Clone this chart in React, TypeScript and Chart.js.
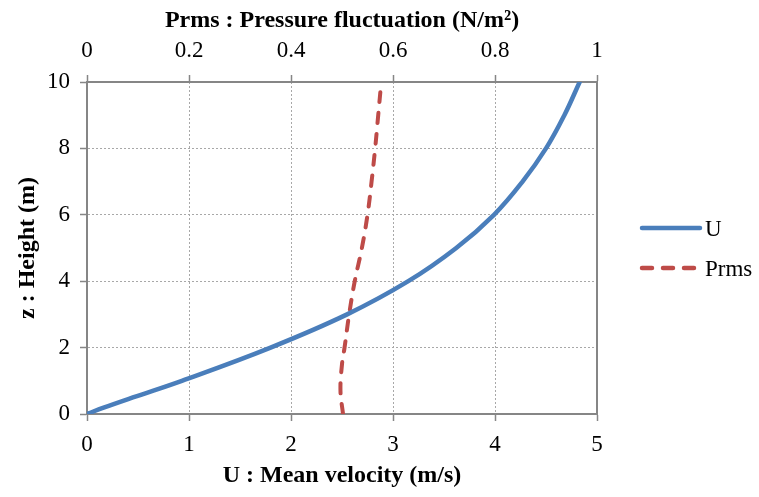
import React, { useEffect, useRef } from 'react';
import { Chart, registerables } from 'chart.js';

Chart.register(...registerables);

// ---- data ----
const seriesLabels = ['U', 'Prms'];
const uHeights = [0, 0.2, 0.5, 1, 2, 3, 4, 5, 6, 7, 8, 9, 10];
const uValues = [0, 0.17, 0.45, 0.93, 1.8, 2.55, 3.15, 3.62, 3.99, 4.27, 4.5, 4.68, 4.83];
const pHeights = [0, 0.7, 1.5, 2, 3, 4, 5, 6, 7, 8, 9, 10];
const pValues = [0.502, 0.497, 0.5, 0.505, 0.514, 0.525, 0.539, 0.55, 0.558, 0.565, 0.571, 0.577];
const uTicks = [0, 1, 2, 3, 4, 5];
const pTicks = [0, 0.2, 0.4, 0.6, 0.8, 1];
const zTicks = [0, 2, 4, 6, 8, 10];
const uTitle = 'U : Mean velocity (m/s)';
const pTitle = 'Prms : Pressure fluctuation (N/m²)';
const zTitle = 'z : Height (m)';

const serif = "'Liberation Serif', 'Times New Roman', serif";
const tickFont = { family: serif, size: 23 };
const titleFont = { family: serif, size: 24, weight: 'bold' as const };
const axisGray = '#868686';
const gridGray = '#a8a8a8';

const sideLegend = {
  id: 'sideLegend',
  afterDraw(chart: any) {
    const { ctx, chartArea } = chart;
    const cy = (chartArea.top + chartArea.bottom) / 2;
    chart.data.datasets.forEach((ds: any, i: number) => {
      const y = cy - 20 + i * 40;
      const x0 = chartArea.right + 45;
      const x1 = x0 + 58;
      ctx.save();
      ctx.strokeStyle = ds.borderColor;
      ctx.lineWidth = 4.5;
      ctx.lineCap = 'round';
      ctx.setLineDash(ds.borderDash || []);
      ctx.beginPath();
      ctx.moveTo(x0, y);
      ctx.lineTo(x1, y);
      ctx.stroke();
      ctx.setLineDash([]);
      ctx.fillStyle = '#000';
      ctx.font = `23px ${serif}`;
      ctx.textAlign = 'left';
      ctx.textBaseline = 'middle';
      ctx.fillText(ds.label, x1 + 5, y + 2);
      ctx.restore();
    });
  },
};

const setTicks = (arr: number[]) => (scale: any) => {
  scale.ticks = arr.map((v) => ({ value: v }));
};
const plainLabel = (v: any) => String(Math.round(Number(v) * 100) / 100);

export default function App() {
  const ref = useRef<HTMLCanvasElement>(null);

  useEffect(() => {
    if (!ref.current) return;
    const chart = new Chart(ref.current, {
      type: 'line',
      data: {
        datasets: [
          {
            label: seriesLabels[0],
            data: uHeights.map((z, i) => ({ x: uValues[i], y: z })),
            xAxisID: 'x',
            yAxisID: 'y',
            borderColor: '#4a7ebb',
            backgroundColor: '#4a7ebb',
            borderWidth: 4.5,
            borderCapStyle: 'round',
            borderJoinStyle: 'round',
            pointRadius: 0,
            pointHoverRadius: 0,
            tension: 0.4,
            fill: false,
          },
          {
            label: seriesLabels[1],
            data: pHeights.map((z, i) => ({ x: pValues[i], y: z })),
            xAxisID: 'x2',
            yAxisID: 'y',
            borderColor: '#be4b48',
            backgroundColor: '#be4b48',
            borderWidth: 4,
            borderDash: [10, 11],
            borderCapStyle: 'round',
            borderJoinStyle: 'round',
            pointRadius: 0,
            pointHoverRadius: 0,
            tension: 0.4,
            fill: false,
          },
        ],
      },
      options: {
        responsive: false,
        animation: false,
        events: [],
        layout: { padding: { left: 0, right: 162, top: 0, bottom: 0 } },
        plugins: { legend: { display: false }, tooltip: { enabled: false } },
        scales: {
          x: {
            type: 'linear',
            axis: 'x',
            position: 'bottom',
            min: 0,
            max: 5,
            afterBuildTicks: setTicks(uTicks),
            afterFit: (s: any) => { s.height = 83; },
            ticks: { font: tickFont, color: '#000', padding: 10, maxRotation: 0, callback: plainLabel },
            grid: { color: gridGray, lineWidth: 1, tickLength: 7, tickColor: axisGray, tickWidth: 1.5, tickBorderDash: [] },
            border: { color: axisGray, width: 2, dash: [2, 2] },
            title: { display: true, text: uTitle, font: titleFont, color: '#000', padding: { top: 0, bottom: 6.6 } },
          },
          x2: {
            type: 'linear',
            axis: 'x',
            position: 'top',
            min: 0,
            max: 1,
            afterBuildTicks: setTicks(pTicks),
            afterFit: (s: any) => { s.height = 82; },
            ticks: { font: tickFont, color: '#000', padding: 10, maxRotation: 0, callback: plainLabel },
            grid: { drawOnChartArea: false, drawTicks: true, color: gridGray, tickLength: 7, tickColor: axisGray, tickWidth: 1.5, tickBorderDash: [] },
            border: { color: axisGray, width: 2 },
            title: { display: true, text: pTitle, font: titleFont, color: '#000', padding: { top: 6.1, bottom: 0 } },
          },
          y: {
            type: 'linear',
            axis: 'y',
            position: 'left',
            min: 0,
            max: 10,
            afterBuildTicks: setTicks(zTicks),
            afterFit: (s: any) => { s.width = 87; },
            ticks: { font: tickFont, color: '#000', padding: 10, callback: plainLabel },
            grid: { color: gridGray, lineWidth: 1, tickLength: 7, tickColor: axisGray, tickWidth: 1.5, tickBorderDash: [] },
            border: { color: axisGray, width: 2, dash: [2, 2] },
            title: { display: true, text: zTitle, font: titleFont, color: '#000', padding: { top: 13.2, bottom: 0 } },
          },
          y2: {
            type: 'linear',
            axis: 'y',
            position: 'right',
            min: 0,
            max: 10,
            afterFit: (s: any) => { s.width = 0; },
            ticks: { display: false },
            grid: { display: false, drawTicks: false },
            border: { color: axisGray, width: 2 },
          },
        },
      } as any,
      plugins: [sideLegend],
    });
    return () => chart.destroy();
  }, []);

  return (
    <div style={{ position: 'fixed', left: 0, top: 0, width: 759, height: 497, background: '#fff' }}>
      <canvas ref={ref} width={759} height={497} style={{ display: 'block' }} />
    </div>
  );
}
